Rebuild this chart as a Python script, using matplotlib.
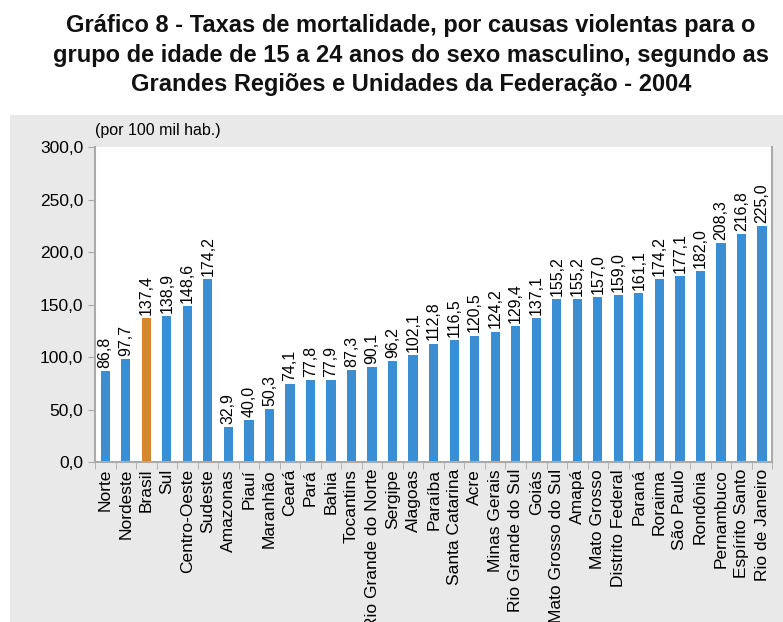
import numpy as np
import matplotlib.pyplot as plt
from matplotlib.patches import Rectangle

plt.rcParams['font.family'] = ['Liberation Sans', 'DejaVu Sans']

regioes = ["Norte", "Nordeste", "Brasil", "Sul", "Centro-Oeste", "Sudeste",
           "Amazonas", "Piauí", "Maranhão", "Ceará", "Pará", "Bahia",
           "Tocantins", "Rio Grande do Norte", "Sergipe", "Alagoas", "Paraíba",
           "Santa Catarina", "Acre", "Minas Gerais", "Rio Grande do Sul", "Goiás",
           "Mato Grosso do Sul", "Amapá", "Mato Grosso", "Distrito Federal",
           "Paraná", "Roraima", "São Paulo", "Rondônia", "Pernambuco",
           "Espírito Santo", "Rio de Janeiro"]
taxas = [86.8, 97.7, 137.4, 138.9, 148.6, 174.2,
         32.9, 40.0, 50.3, 74.1, 77.8, 77.9,
         87.3, 90.1, 96.2, 102.1, 112.8,
         116.5, 120.5, 124.2, 129.4, 137.1,
         155.2, 155.2, 157.0, 159.0,
         161.1, 174.2, 177.1, 182.0, 208.3,
         216.8, 225.0]
destaque = "Brasil"

azul = "#3a8fd4"
laranja = "#d6872a"

fig = plt.figure(figsize=(7.83, 6.22), dpi=100)
fig.patches.append(Rectangle((0.0128, 0), 1, 0.815, transform=fig.transFigure,
                             facecolor="#e9e9e9", edgecolor="none", zorder=-5))

fig.text(0.525, 0.978,
         "Gráfico 8 - Taxas de mortalidade, por causas violentas para o\n"
         "grupo de idade de 15 a 24 anos do sexo masculino, segundo as\n"
         "Grandes Regiões e Unidades da Federação - 2004",
         ha="center", va="top", fontsize=17, fontweight="bold",
         linespacing=1.38, color="#111111")
fig.text(0.121, 0.79, "(por 100 mil hab.)", fontsize=11.5, va="center")

ax = fig.add_axes([0.1213, 0.2572, 0.865, 0.5064])
x = np.arange(len(regioes))
cores = [laranja if r == destaque else azul for r in regioes]
ax.bar(x, taxas, width=0.45, color=cores, zorder=2)

for xi, v in zip(x, taxas):
    ax.text(xi, v + 3, f"{v:.1f}".replace(".", ","), rotation=90,
            ha="center", va="bottom", fontsize=11.5)

ax.set_xlim(-0.5, len(regioes) - 0.5)
ax.set_ylim(0, 300)
ax.set_yticks(np.arange(0, 301, 50))
ax.set_yticklabels([f"{t:.1f}".replace(".", ",") for t in np.arange(0, 301, 50)],
                   fontsize=12.5)
ax.set_xticks(x)
ax.set_xticklabels(regioes, rotation=90, fontsize=12.5)
ax.tick_params(axis="x", length=0, pad=5)
ax.set_xticks(np.arange(-0.5, len(regioes), 1), minor=True)
ax.tick_params(axis="x", which="minor", length=5, color="#aaaaaa", direction="out")
ax.tick_params(axis="y", length=5, color="#aaaaaa", direction="out")

for s in ["left", "bottom", "right"]:
    ax.spines[s].set_color("#aaaaaa")
    ax.spines[s].set_linewidth(1.5)
ax.spines["top"].set_visible(False)

fig.savefig("out.png", dpi=100)
